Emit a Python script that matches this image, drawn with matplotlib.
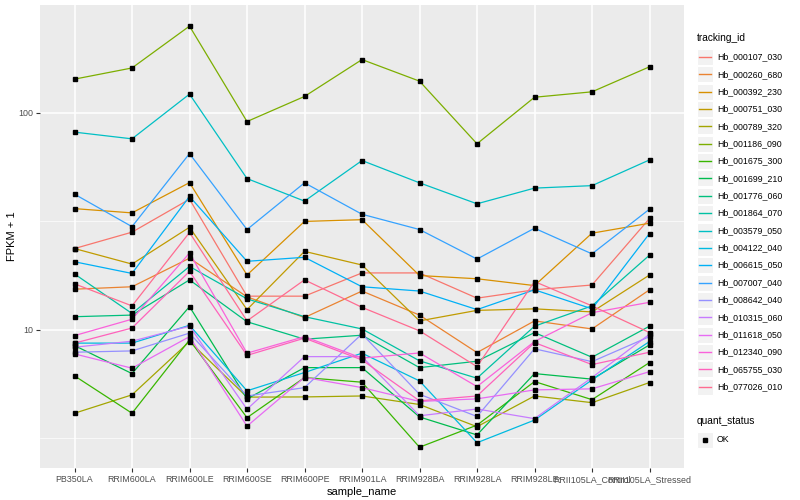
import matplotlib
matplotlib.use("Agg")
import matplotlib.pyplot as plt
from matplotlib.patches import Rectangle
from matplotlib.lines import Line2D
from matplotlib.ticker import FixedLocator, NullFormatter

plt.rcParams['font.family'] = ['Liberation Sans', 'DejaVu Sans']

samples = ["PB350LA", "RRIM600LA", "RRIM600LE", "RRIM600SE", "RRIM600PE",
           "RRIM901LA", "RRIM928BA", "RRIM928LA", "RRIM928LE",
           "RRII105LA_Control", "RRII105LA_Stressed"]

tracking_ids = ["Hb_000107_030", "Hb_000260_680", "Hb_000392_230", "Hb_000751_030",
                "Hb_000789_320", "Hb_001186_090", "Hb_001675_300", "Hb_001699_210",
                "Hb_001776_060", "Hb_001864_070", "Hb_003579_050", "Hb_004122_040",
                "Hb_006615_050", "Hb_007007_040", "Hb_008642_040", "Hb_010315_060",
                "Hb_011618_050", "Hb_012340_090", "Hb_065755_030", "Hb_077026_010"]

# FPKM + 1 per sample
hb_000107_030 = [23.7, 28.2, 40.0, 14.3, 14.3, 18.3, 18.3, 14.0, 15.3, 16.1, 32.6]
hb_000260_680 = [15.4, 15.8, 21.4, 14.2, 11.4, 15.1, 11.7, 7.86, 11.0, 10.1, 15.3]
hb_000392_230 = [36.2, 34.6, 47.7, 17.9, 31.6, 32.2, 17.8, 17.2, 16.0, 27.9, 31.0]
hb_000751_030 = [23.7, 20.1, 29.7, 12.4, 23.0, 19.9, 11.0, 12.3, 12.5, 12.1, 17.9]
hb_000789_320 = [4.13, 5.02, 8.84, 4.90, 4.91, 4.96, 4.53, 3.58, 4.96, 4.62, 5.72]
hb_001186_090 = [143, 161, 251, 91.2, 119, 176, 140, 72.0, 118, 125, 163]
hb_001675_300 = [6.14, 4.13, 8.99, 3.94, 6.03, 5.74, 2.88, 3.64, 5.78, 4.77, 7.07]
hb_001699_210 = [8.47, 6.29, 12.8, 4.81, 6.70, 6.70, 3.97, 3.28, 6.29, 5.93, 8.53]
hb_001776_060 = [11.5, 11.7, 17.0, 10.9, 9.06, 9.45, 6.70, 7.17, 9.72, 7.48, 10.4]
hb_001864_070 = [18.1, 11.9, 19.6, 13.9, 11.5, 10.1, 7.20, 5.99, 10.4, 12.9, 22.1]
hb_003579_050 = [81.5, 75.9, 122, 49.8, 39.2, 60.3, 47.6, 38.1, 45.0, 46.2, 60.7]
hb_004122_040 = [8.69, 8.69, 10.5, 5.24, 6.36, 7.81, 5.82, 3.02, 3.84, 5.88, 8.84]
hb_006615_050 = [20.6, 18.2, 41.2, 20.7, 21.6, 15.8, 15.1, 12.4, 15.3, 12.5, 27.8]
hb_007007_040 = [42.2, 29.9, 64.9, 29.0, 47.6, 34.1, 29.0, 21.2, 29.4, 22.4, 36.0]
hb_008642_040 = [7.89, 8.00, 9.66, 4.96, 5.42, 9.58, 5.05, 3.99, 8.18, 7.14, 9.31]
hb_010315_060 = [8.32, 8.87, 10.4, 4.31, 7.53, 7.53, 4.02, 4.32, 3.90, 6.03, 9.55]
hb_011618_050 = [7.75, 6.66, 9.31, 3.60, 6.04, 5.42, 4.68, 4.81, 5.29, 5.35, 6.42]
hb_012340_090 = [9.41, 11.2, 22.6, 7.81, 9.31, 7.41, 7.83, 5.48, 8.84, 12.0, 13.4]
hb_065755_030 = [8.69, 10.2, 18.6, 7.63, 9.16, 7.27, 4.71, 4.96, 8.74, 6.92, 7.89]
hb_077026_010 = [16.3, 12.9, 28.1, 11.0, 17.0, 12.7, 9.90, 6.77, 16.7, 12.9, 9.72]

series = [hb_000107_030, hb_000260_680, hb_000392_230, hb_000751_030, hb_000789_320,
          hb_001186_090, hb_001675_300, hb_001699_210, hb_001776_060, hb_001864_070,
          hb_003579_050, hb_004122_040, hb_006615_050, hb_007007_040, hb_008642_040,
          hb_010315_060, hb_011618_050, hb_012340_090, hb_065755_030, hb_077026_010]

# ggplot2 default hue palette for 20 groups
colors = ["#F8766D", "#EA8331", "#D89000", "#C09B00", "#A3A500", "#7CAE00", "#39B600",
          "#00BB4E", "#00BF7D", "#00C1A3", "#00BFC4", "#00BAE0", "#00B0F6", "#35A2FF",
          "#9590FF", "#C77CFF", "#E76BF3", "#FA62DB", "#FF62BC", "#FF6C91"]

W, H = 800, 500
fig = plt.figure(figsize=(8, 5), dpi=100)
ax = fig.add_axes([40 / W, 1 - 468 / H, 644 / W, 463 / H])
ax.set_facecolor("#EBEBEB")
for s in ax.spines.values():
    s.set_visible(False)

x = list(range(len(samples)))
for vals, col in zip(series, colors):
    ax.plot(x, vals, color=col, lw=0.9, zorder=2)
for vals in series:
    ax.plot(x, vals, ls="none", marker="s", ms=2.4, color="black", zorder=3)

ax.set_yscale("log")
ax.set_ylim(2.31, 314)
ax.set_xlim(-0.6, len(samples) - 0.4)
ax.yaxis.set_major_locator(FixedLocator([10, 100]))
ax.yaxis.set_minor_locator(FixedLocator([3.162, 31.62]))
ax.yaxis.set_minor_formatter(NullFormatter())
ax.set_yticklabels(["10", "100"])
ax.set_xticks(x)
ax.set_xticklabels(samples)
ax.tick_params(which="major", length=3, width=0.8, color="#333333",
               labelsize=6.4, labelcolor="#4D4D4D", pad=2)
ax.tick_params(which="minor", length=0)
ax.grid(which="major", color="white", lw=1.1)
ax.grid(which="minor", axis="y", color="white", lw=0.5)
ax.set_axisbelow(True)

ax.set_xlabel("sample_name", fontsize=8, labelpad=2)
ax.set_ylabel("FPKM + 1", fontsize=8, labelpad=1)

# legend drawn by hand, ggplot style
def fx(px):
    return px / W

def fy(py):
    return 1 - py / H

fig.text(fx(697), fy(38), "tracking_id", fontsize=7.3, va="center", ha="left")
step = 17.35
for i, (name, col) in enumerate(zip(tracking_ids, colors)):
    yc = 57 + step * i
    fig.patches.append(Rectangle((fx(697), fy(yc + 8)), 16 / W, 16 / H,
                                 transform=fig.transFigure, facecolor="#F2F2F2",
                                 edgecolor="white", lw=0.8))
    fig.lines.append(Line2D([fx(699), fx(711)], [fy(yc), fy(yc)], color=col, lw=1.0,
                            transform=fig.transFigure))
    fig.text(fx(717), fy(yc), name, fontsize=6.3, va="center", ha="left")

fig.text(fx(697), fy(421), "quant_status", fontsize=7.3, va="center", ha="left")
fig.patches.append(Rectangle((fx(697), fy(448)), 16 / W, 16 / H,
                             transform=fig.transFigure, facecolor="#F2F2F2",
                             edgecolor="white", lw=0.8))
fig.lines.append(Line2D([fx(705)], [fy(440)], marker="s", ms=2.4, color="black",
                        ls="none", transform=fig.transFigure))
fig.text(fx(717), fy(440), "OK", fontsize=6.3, va="center", ha="left")

fig.savefig("out.png", dpi=100)
